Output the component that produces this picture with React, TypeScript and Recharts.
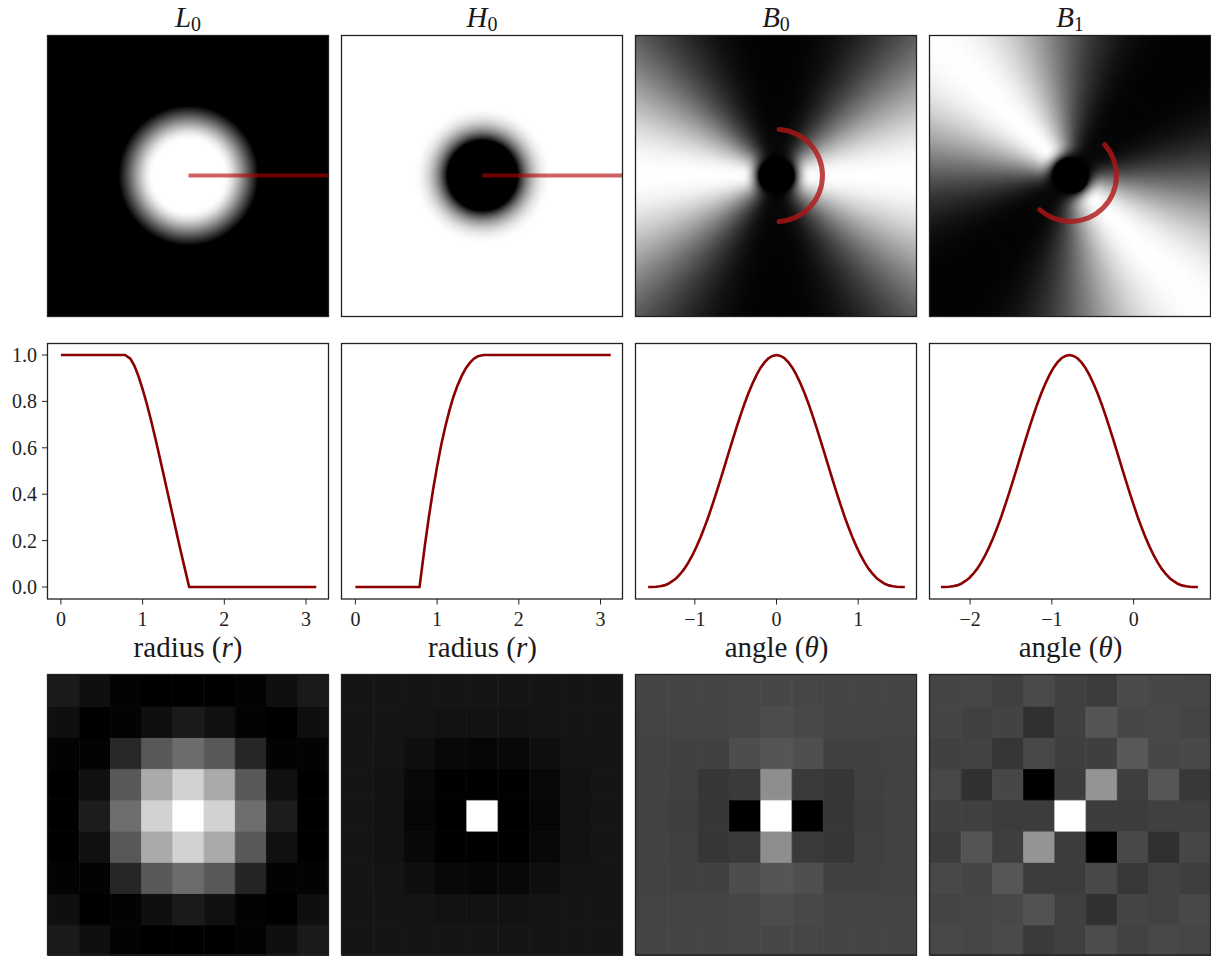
import React from 'react';
import {
  BarChart, Bar, Cell, XAxis, YAxis, LineChart, Line, PieChart, Pie, ReferenceArea, Label,
} from 'recharts';

// radial profiles
const radius = [0, 0.785, 0.85, 0.9, 0.95, 1, 1.05, 1.1, 1.15, 1.2, 1.25, 1.3, 1.35, 1.4, 1.45, 1.5, 1.57, 2, 2.5, 3.125];
const lowGain = [1, 1, 0.984, 0.953, 0.908, 0.853, 0.791, 0.723, 0.65, 0.573, 0.495, 0.416, 0.337, 0.258, 0.18, 0.104, 0, 0, 0, 0];
const highGain = [0, 0, 0.178, 0.304, 0.418, 0.52, 0.612, 0.691, 0.76, 0.82, 0.869, 0.909, 0.942, 0.966, 0.984, 0.995, 1, 1, 1, 1];

// angular profile of the oriented bands
const theta0 = [
  -1.571, -1.522, -1.473, -1.424, -1.374, -1.325, -1.276, -1.227, -1.178, -1.129, -1.08, -1.031, -0.982,
  -0.933, -0.884, -0.834, -0.785, -0.736, -0.687, -0.638, -0.589, -0.54, -0.491, -0.442, -0.393, -0.344,
  -0.295, -0.245, -0.196, -0.147, -0.098, -0.049, 0, 0.049, 0.098, 0.147, 0.196, 0.245, 0.295, 0.344,
  0.393, 0.442, 0.491, 0.54, 0.589, 0.638, 0.687, 0.736, 0.785, 0.834, 0.884, 0.933, 0.982, 1.031, 1.08,
  1.129, 1.178, 1.227, 1.276, 1.325, 1.374, 1.424, 1.473, 1.522, 1.571,
];
const angGain = [
  0, 0, 0.001, 0.003, 0.007, 0.014, 0.025, 0.038, 0.056, 0.078, 0.105, 0.136, 0.172, 0.211, 0.255, 0.303,
  0.354, 0.407, 0.462, 0.518, 0.575, 0.631, 0.686, 0.739, 0.789, 0.835, 0.876, 0.913, 0.944, 0.968, 0.986, 0.996,
  1, 0.996, 0.986, 0.968, 0.944, 0.913, 0.876, 0.835, 0.789, 0.739, 0.686, 0.631, 0.575, 0.518, 0.462, 0.407,
  0.354, 0.303, 0.255, 0.211, 0.172, 0.136, 0.105, 0.078, 0.056, 0.038, 0.025, 0.014, 0.007, 0.003, 0.001, 0, 0,
];
const theta1 = [
  -2.356, -2.307, -2.258, -2.209, -2.159, -2.11, -2.061, -2.012, -1.963, -1.914, -1.865, -1.816, -1.767,
  -1.718, -1.669, -1.619, -1.57, -1.521, -1.472, -1.423, -1.374, -1.325, -1.276, -1.227, -1.178, -1.129,
  -1.08, -1.03, -0.981, -0.932, -0.883, -0.834, -0.785, -0.736, -0.687, -0.638, -0.589, -0.54, -0.49, -0.441,
  -0.392, -0.343, -0.294, -0.245, -0.196, -0.147, -0.098, -0.049, 0, 0.049, 0.099, 0.148, 0.197, 0.246, 0.295,
  0.344, 0.393, 0.442, 0.491, 0.54, 0.589, 0.639, 0.688, 0.737, 0.786,
];

// bottom row, gray level of each filter tap, row by row
const lowTaps = [
  [26, 15, 3, 0, 0, 0, 3, 15, 26],
  [15, 0, 3, 15, 26, 16, 3, 0, 15],
  [3, 3, 40, 88, 108, 88, 38, 3, 3],
  [0, 16, 88, 170, 210, 170, 88, 16, 0],
  [0, 28, 110, 210, 255, 210, 110, 28, 0],
  [0, 16, 88, 170, 210, 170, 88, 16, 0],
  [3, 3, 38, 88, 108, 88, 36, 3, 3],
  [15, 0, 3, 15, 26, 16, 3, 0, 15],
  [26, 15, 3, 0, 0, 0, 3, 15, 26],
];
const highTaps = [
  [21, 21, 21, 21, 21, 21, 21, 21, 21],
  [21, 21, 20, 18, 18, 18, 20, 21, 21],
  [21, 20, 15, 8, 6, 8, 15, 20, 21],
  [21, 18, 8, 1, 0, 1, 8, 18, 21],
  [21, 18, 6, 0, 255, 0, 6, 18, 21],
  [21, 18, 8, 1, 0, 1, 8, 18, 21],
  [21, 20, 15, 8, 6, 8, 15, 20, 21],
  [21, 21, 20, 18, 18, 18, 20, 21, 21],
  [21, 21, 21, 21, 21, 21, 21, 21, 21],
];
const band0Taps = [
  [69, 69, 69, 70, 71, 70, 69, 69, 69],
  [68, 68, 68, 70, 76, 72, 68, 68, 68],
  [66, 65, 65, 77, 85, 79, 65, 65, 66],
  [66, 64, 54, 58, 142, 58, 54, 64, 66],
  [66, 62, 55, 0, 255, 0, 55, 62, 66],
  [66, 64, 54, 58, 142, 58, 54, 64, 66],
  [66, 65, 65, 77, 85, 79, 65, 65, 66],
  [68, 68, 68, 70, 76, 72, 68, 68, 68],
  [69, 69, 69, 70, 71, 70, 69, 69, 69],
];
const band1Taps = [
  [68, 70, 64, 74, 65, 60, 75, 71, 70],
  [69, 64, 67, 48, 64, 85, 71, 72, 68],
  [64, 66, 54, 72, 62, 63, 88, 71, 73],
  [72, 48, 71, 0, 60, 148, 62, 86, 56],
  [64, 64, 60, 60, 255, 60, 60, 64, 64],
  [60, 84, 62, 148, 60, 0, 72, 48, 70],
  [72, 68, 86, 60, 60, 72, 56, 66, 62],
  [68, 70, 72, 82, 64, 48, 68, 66, 72],
  [72, 70, 74, 58, 64, 76, 66, 72, 70],
];

const panelLeft = [47.5, 341.5, 635.5, 929.5];
const panelSize = 281;
const titles = ['L', 'H', 'B', 'B'];
const titleSubs = ['0', '0', '0', '1'];

const serif = '"Liberation Serif", serif';
const curveColor = '#8b0000';
const gray = (v: number) => `rgb(${v},${v},${v})`;
const grayUnit = (v: number) => gray(Math.round(v * 255));

const box = (left: number, top: number, w: number, h: number): React.CSSProperties => ({
  position: 'absolute', left, top, width: w, height: h, overflow: 'hidden',
});

// disc with a radial fall-off, plus the radial slice drawn over it
const RadialImage = ({ id, left, gains }: { id: string; left: number; gains: number[] }) => (
  <div style={box(left, 35, panelSize, panelSize)}>
    <LineChart width={panelSize} height={panelSize} margin={{ top: 0, right: 0, bottom: 0, left: 0 }}
      data={[{ x: 0, y: 0 }, { x: 3.125, y: 0 }]}>
      <defs>
        <radialGradient id={id} gradientUnits="userSpaceOnUse" cx={panelSize / 2} cy={panelSize / 2} r={70}>
          {radius.filter((r) => r <= 1.57).map((r, i) => (
            <stop key={r} offset={r / 1.57} stopColor={grayUnit(gains[i])} />
          ))}
        </radialGradient>
      </defs>
      <XAxis type="number" dataKey="x" domain={[-3.14, 3.14]} hide allowDataOverflow />
      <YAxis type="number" dataKey="y" domain={[-3.14, 3.14]} hide allowDataOverflow />
      <ReferenceArea x1={-3.14} x2={3.14} y1={-3.14} y2={3.14} fill={`url(#${id})`} fillOpacity={1} stroke="none" />
      <Line dataKey="y" stroke="#b40000" strokeOpacity={0.62} strokeWidth={4} dot={false} isAnimationActive={false} />
    </LineChart>
  </div>
);

// angular wedges, dark hole in the middle, and the arc of the passband
const AngularImage = ({ id, left, start }: { id: string; left: number; start: number }) => {
  const halfTurn = angGain.slice(0, 64);
  const wedges = [...halfTurn, ...halfTurn].map((g) => ({ gain: g, span: 1 }));
  const c = panelSize / 2;
  const bleed = 20; // wedge layer is larger than the panel so the blur has no soft rim
  return (
    <div style={box(left, 35, panelSize, panelSize)}>
      <div style={{ position: 'absolute', left: -bleed, top: -bleed, filter: 'blur(2.5px)' }}>
        <PieChart width={panelSize + 2 * bleed} height={panelSize + 2 * bleed} margin={{ top: 0, right: 0, bottom: 0, left: 0 }}>
          <Pie data={wedges} dataKey="span" cx={c + bleed} cy={c + bleed} innerRadius={0} outerRadius={240}
            startAngle={start - 1.4} endAngle={start - 1.4 + 360} isAnimationActive={false} stroke="none">
            {wedges.map((w, i) => (
              <Cell key={i} fill={grayUnit(w.gain)} stroke={grayUnit(w.gain)} strokeWidth={0.6} />
            ))}
          </Pie>
        </PieChart>
      </div>
      <div style={{ position: 'absolute', left: 0, top: 0 }}>
        <PieChart width={panelSize} height={panelSize} margin={{ top: 0, right: 0, bottom: 0, left: 0 }}>
          <defs>
            <radialGradient id={id} gradientUnits="userSpaceOnUse" cx={c} cy={c} r={36}>
              {radius.filter((r) => r <= 1.57).map((r, i) => (
                <stop key={r} offset={(r / 1.57) * (35 / 36)} stopColor="#000" stopOpacity={1 - highGain[i]} />
              ))}
              <stop offset={1} stopColor="#000" stopOpacity={0} />
            </radialGradient>
          </defs>
          <Pie data={[{ span: 1 }]} dataKey="span" cx={c} cy={c} innerRadius={0} outerRadius={36}
            startAngle={0} endAngle={360} isAnimationActive={false} stroke="none" fill={`url(#${id})`} />
          <Pie data={[{ span: 1 }]} dataKey="span" cx={c} cy={c} innerRadius={43.5} outerRadius={48.5} cornerRadius={2.5}
            startAngle={start} endAngle={start + 180} isAnimationActive={false} stroke="none"
            fill="#b01515" fillOpacity={0.8} />
        </PieChart>
      </div>
    </div>
  );
};

const caption = (word: string, symbol: string) => ({ viewBox }: any) => (
  <text x={viewBox.x + viewBox.width / 2} y={viewBox.y + 58} textAnchor="middle"
    fontFamily={serif} fontSize={29} fill="#1a1a1a">
    {word} (<tspan fontStyle="italic">{symbol}</tspan>)
  </text>
);

const minus = (v: number) => String(v).replace('-', '\u2212');

const CurvePanel = ({ xs, ys, domain, ticks, word, symbol, left, withY }: {
  xs: number[]; ys: number[]; domain: [number, number]; ticks: number[];
  word: string; symbol: string; left: number; withY?: boolean;
}) => {
  const yAxisWidth = withY ? left : 0;
  const rows = xs.map((x, i) => ({ x, y: ys[i] }));
  const tick = { fontFamily: serif, fontSize: 20, fill: '#222' };
  return (
    <div style={{ position: 'absolute', left: withY ? 0 : left, top: 343 }}>
      <LineChart width={panelSize + yAxisWidth} height={327} data={rows} margin={{ top: 0, right: 0, bottom: 0, left: 0 }}>
        <XAxis type="number" dataKey="x" domain={domain} ticks={ticks} allowDataOverflow height={71}
          tickSize={5.5} tickMargin={7} tick={tick} tickFormatter={minus} axisLine={false} stroke="#222" interval={0}>
          <Label content={caption(word, symbol)} />
        </XAxis>
        <YAxis type="number" dataKey="y" domain={[-0.0517, 1.0517]} ticks={[0, 0.2, 0.4, 0.6, 0.8, 1]} hide={!withY}
          allowDataOverflow width={yAxisWidth} tickSize={5.5} tickMargin={5} tick={tick} axisLine={false} stroke="#222"
          tickFormatter={(v: number) => v.toFixed(1)} interval={0} />
        <Line dataKey="y" type="linear" stroke={curveColor} strokeWidth={2.6} dot={false} isAnimationActive={false} />
      </LineChart>
    </div>
  );
};

const tapColumns = [0, 1, 2, 3, 4, 5, 6, 7, 8];

const TapPanel = ({ taps, left }: { taps: number[][]; left: number }) => {
  const rows = tapColumns.map((c) => ({ col: c, r0: 1, r1: 1, r2: 1, r3: 1, r4: 1, r5: 1, r6: 1, r7: 1, r8: 1 }));
  return (
    <div style={box(left, 674.5, panelSize, panelSize)}>
      <BarChart width={panelSize} height={panelSize} data={rows} barCategoryGap={0} barGap={0}
        margin={{ top: 0, right: 0, bottom: 0, left: 0 }}>
        <XAxis dataKey="col" hide />
        <YAxis type="number" domain={[0, 9]} hide />
        {/* stacks grow upwards, so the last row of the table goes first */}
        {[8, 7, 6, 5, 4, 3, 2, 1, 0].map((row) => (
          <Bar key={row} dataKey={`r${row}`} stackId="taps" isAnimationActive={false}>
            {tapColumns.map((c) => (
              <Cell key={c} fill={gray(taps[row][c])} stroke={gray(taps[row][c])} strokeWidth={0.9} />
            ))}
          </Bar>
        ))}
      </BarChart>
    </div>
  );
};

// panel frames and column titles
const Overlay = () => (
  <svg width={1211} height={958} style={{ position: 'absolute', left: 0, top: 0, pointerEvents: 'none' }}>
    {panelLeft.map((x, i) => (
      <g key={x}>
        <text x={x + panelSize / 2} y={26.5} textAnchor="middle" fontFamily={serif} fontSize={29} fill="#1a1a1a">
          <tspan fontStyle="italic">{titles[i]}</tspan>
          <tspan dy={4} fontSize={20}>{titleSubs[i]}</tspan>
        </text>
        {[[35.5, 281], [343.5, 255.5], [674.5, 280.5]].map(([y, h]) => (
          <rect key={y} x={x} y={y} width={panelSize} height={h} fill="none" stroke="#222" strokeWidth={1.3} />
        ))}
      </g>
    ))}
  </svg>
);

export default function App() {
  return (
    <div style={{ position: 'absolute', left: 0, top: 0, width: 1211, height: 958, background: '#fff' }}>
      <RadialImage id="lowDisc" left={panelLeft[0]} gains={lowGain} />
      <RadialImage id="highDisc" left={panelLeft[1]} gains={highGain} />
      <AngularImage id="hole0" left={panelLeft[2]} start={-90} />
      <AngularImage id="hole1" left={panelLeft[3]} start={-135} />

      <CurvePanel xs={radius} ys={lowGain} domain={[-0.164, 3.275]} ticks={[0, 1, 2, 3]} word="radius" symbol="r" left={panelLeft[0]} withY />
      <CurvePanel xs={radius} ys={highGain} domain={[-0.164, 3.275]} ticks={[0, 1, 2, 3]} word="radius" symbol="r" left={panelLeft[1]} />
      <CurvePanel xs={theta0} ys={angGain} domain={[-1.72, 1.72]} ticks={[-1, 0, 1]} word="angle" symbol="θ" left={panelLeft[2]} />
      <CurvePanel xs={theta1} ys={angGain} domain={[-2.49, 0.946]} ticks={[-2, -1, 0]} word="angle" symbol="θ" left={panelLeft[3]} />

      <TapPanel taps={lowTaps} left={panelLeft[0]} />
      <TapPanel taps={highTaps} left={panelLeft[1]} />
      <TapPanel taps={band0Taps} left={panelLeft[2]} />
      <TapPanel taps={band1Taps} left={panelLeft[3]} />

      <Overlay />
    </div>
  );
}
